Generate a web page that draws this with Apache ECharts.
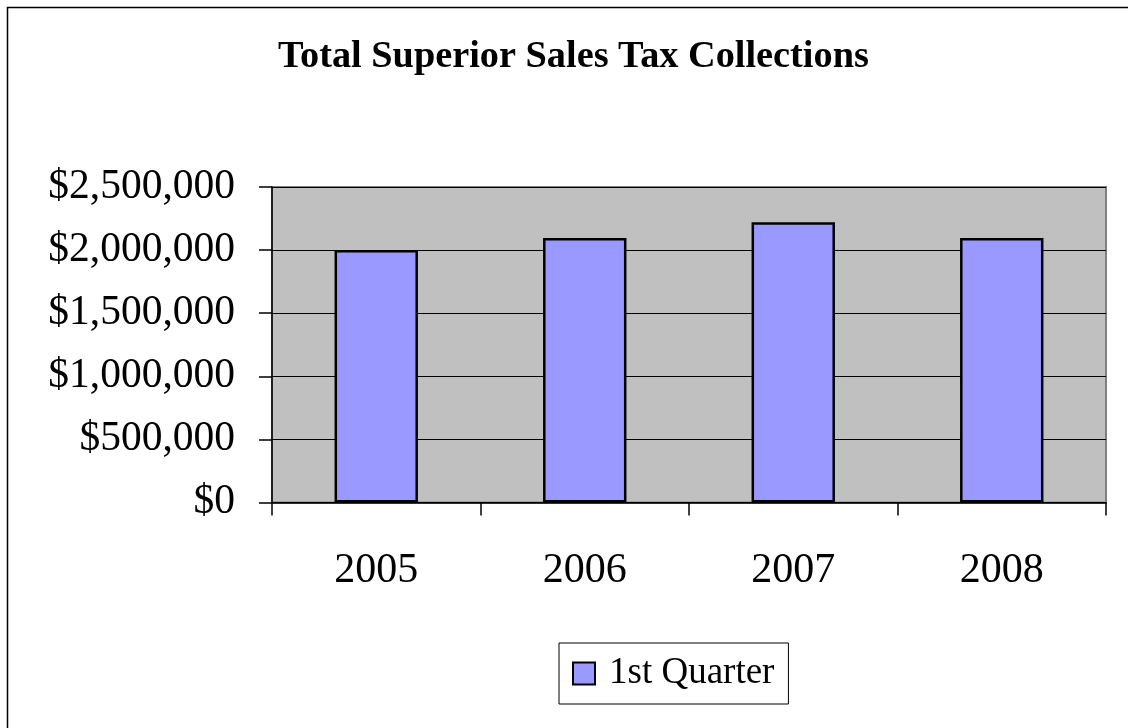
<!DOCTYPE html>
<html><head><meta charset="utf-8">
<script src="https://cdn.jsdelivr.net/npm/echarts@6/dist/echarts.min.js"></script>
<style>html,body{margin:0;padding:0;background:#fff}#c{width:1128px;height:728px}</style>
</head><body><div id="c"></div>
<script>
const title = 'Total Superior Sales Tax Collections';
const categories = ['2005', '2006', '2007', '2008'];
const seriesName = '1st Quarter';
const values = [2000000, 2095000, 2220000, 2095000];
const yMin = 0, yMax = 2500000, yStep = 500000;

const chart = echarts.init(document.getElementById('c'), null, {renderer: 'canvas'});
const F = '"Liberation Serif", "Times New Roman", serif';
chart.setOption({
  backgroundColor: '#fff',
  animation: false,
  graphic: [{
    type: 'rect', shape: {x: 7.5, y: 7.5, width: 1140, height: 740},
    style: {fill: 'none', stroke: '#000', lineWidth: 1.5}, silent: true, z: 100
  }],
  title: {
    text: title, left: 273, top: 33,
    textStyle: {fontFamily: F, fontWeight: 'bold', fontSize: 38.3, color: '#000'}
  },
  legend: {
    data: [seriesName], left: 559, top: 643,
    padding: [12, 14, 12, 13], itemGap: 0,
    icon: 'rect',
    itemWidth: 22, itemHeight: 22,
    borderColor: '#000', borderWidth: 1,
    textStyle: {fontFamily: F, fontSize: 37, color: '#000', padding: [0, 0, 0, 9]}
  },
  grid: {
    left: 272, right: 22, top: 187, bottom: 225.5,
    show: true, backgroundColor: '#c0c0c0', borderColor: '#808080', borderWidth: 2,
    containLabel: false
  },
  xAxis: {
    type: 'category', data: categories,
    axisLine: {show: true, lineStyle: {color: '#000', width: 1.5}},
    axisTick: {show: true, length: 13, alignWithLabel: false, lineStyle: {color: '#000', width: 1.5}},
    axisLabel: {fontFamily: F, fontSize: 42, color: '#000', margin: 47}
  },
  yAxis: {
    type: 'value', min: yMin, max: yMax, interval: yStep,
    axisLine: {show: true, lineStyle: {color: '#000', width: 1.5}},
    axisTick: {show: true, length: 13, lineStyle: {color: '#000', width: 1.5}},
    splitLine: {show: true, lineStyle: {color: '#000', width: 1}},
    axisLabel: {
      fontFamily: F, fontSize: 41.5, color: '#000', margin: 37,
      formatter: v => '$' + v.toLocaleString('en-US')
    }
  },
  series: [{
    name: seriesName, type: 'bar', data: values,
    barCategoryGap: '60%',
    itemStyle: {color: '#9999ff', borderColor: '#000', borderWidth: 2.5}
  }]
});
</script></body></html>
